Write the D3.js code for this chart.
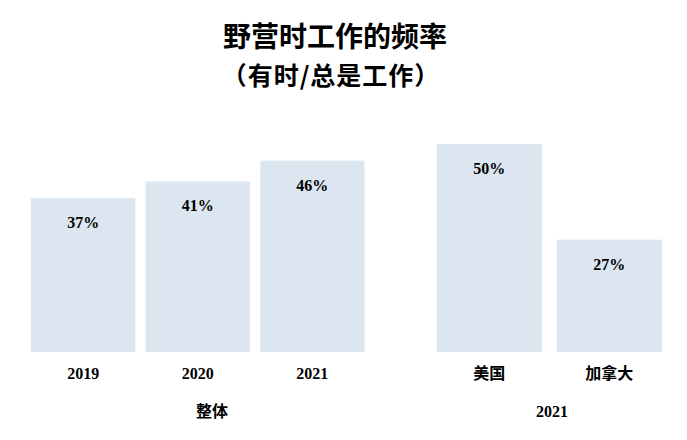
<!DOCTYPE html>
<html><head><meta charset="utf-8">
<script src="https://cdn.jsdelivr.net/npm/d3@7/dist/d3.min.js"></script>
<style>
html,body{margin:0;padding:0;background:#fff;}
svg{display:block;}
</style></head>
<body>
<script>
const title = "野营时工作的频率";
const subtitle = "（有时/总是工作）";
const groupLabels = ["整体", "2021"];
const overallCats = ["2019", "2020", "2021"];
const overallValues = [37, 41, 46];
const countryCats = ["美国", "加拿大"];
const countryValues = [50, 27];

const W = 687, H = 440;
const barColor = "#dce6f1";
const cjk = "'Noto Sans CJK SC', sans-serif";
const numFont = "'Liberation Serif', 'Noto Sans CJK SC', serif";

const svg = d3.select("body").append("svg").attr("width", W).attr("height", H);

const y = d3.scaleLinear().domain([0, 50]).range([352, 144]);

const xL = d3.scaleBand().domain(overallCats).range([31, 364.5]).paddingInner(0.09).paddingOuter(0);
const xR = d3.scaleBand().domain(countryCats).range([436.7, 662]).paddingInner(0.1225).paddingOuter(0);

function drawGroup(x, cats, vals, groupLabel, groupX) {
  const data = cats.map((c, i) => ({c, v: vals[i]}));
  const g = svg.append("g");
  g.selectAll("rect").data(data).join("rect")
    .attr("x", d => x(d.c)).attr("width", x.bandwidth())
    .attr("y", d => y(d.v)).attr("height", d => y(0) - y(d.v))
    .attr("fill", barColor);
  g.selectAll("text.val").data(data).join("text").attr("class", "val")
    .attr("x", d => x(d.c) + x.bandwidth() / 2)
    .attr("y", d => y(d.v) + 30)
    .attr("text-anchor", "middle")
    .style("font-family", numFont).style("font-weight", "bold").style("font-size", "16px")
    .attr("fill", "#000")
    .text(d => d.v + "%");
  const ax = svg.append("g").attr("transform", `translate(0,${y(0)})`)
    .call(d3.axisBottom(x).tickSize(0).tickPadding(0));
  ax.select(".domain").remove();
  ax.selectAll("text")
    .attr("y", 27).attr("dy", 0)
    .style("font-family", numFont).style("font-weight", "bold").style("font-size", "16px")
    .attr("fill", "#000");
  svg.append("text").attr("x", groupX).attr("y", 417)
    .attr("text-anchor", "middle")
    .style("font-family", numFont).style("font-weight", "bold").style("font-size", "16px")
    .text(groupLabel);
}

drawGroup(xL, overallCats, overallValues, groupLabels[0], 212);
drawGroup(xR, countryCats, countryValues, groupLabels[1], 552);

svg.append("text").attr("x", 335).attr("y", 47).attr("text-anchor", "middle")
  .style("font-family", cjk).style("font-weight", "bold").style("font-size", "28px")
  .text(title);
svg.append("text").attr("x", 331).attr("y", 85).attr("text-anchor", "middle")
  .style("font-family", cjk).style("font-weight", "bold").style("font-size", "25px")
  .style("letter-spacing", "1px")
  .text(subtitle);
</script>
</body></html>
